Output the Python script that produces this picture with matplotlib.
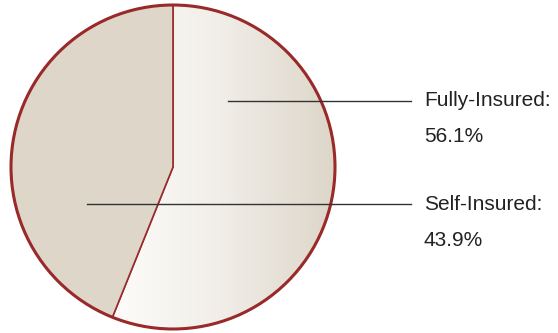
import numpy as np
import matplotlib.pyplot as plt
from matplotlib.colors import LinearSegmentedColormap

labels = ['Fully-Insured', 'Self-Insured']
shares = [56.1, 43.9]

beige = '#ddd6c9'
edge = '#9a2a2a'

fig = plt.figure(figsize=(5.58, 3.33), dpi=100)
ax = fig.add_axes([0, 0, 1, 1])

cx, cy, r = 173, 166, 162
wedges, _ = ax.pie(shares, startangle=90, counterclock=False, center=(cx, cy), radius=r,
                   colors=['none', beige], wedgeprops=dict(edgecolor=edge, linewidth=1.2),
                   frame=True)
ax.set_xlim(0, 558)
ax.set_ylim(0, 333)
ax.set_aspect('equal')
ax.axis('off')

# gradient fill of the fully-insured slice
cmap = LinearSegmentedColormap.from_list('g', ['#fefdfb', '#f1eee8', beige])
grad = np.linspace(0, 1, 256).reshape(1, -1)
im = ax.imshow(grad, cmap=cmap, extent=[105, cx + r, cy - r, cy + r], aspect='auto', zorder=0.5)
im.set_clip_path(wedges[0])

outline = plt.Circle((cx, cy), r, fill=False, edgecolor=edge, linewidth=2.2, zorder=3)
ax.add_patch(outline)

# leader lines and labels
ys = [333 - 101, 333 - 204]
starts = [228, 87]
for lab, val, y, x0 in zip(labels, shares, ys, starts):
    ax.plot([x0, 411], [y, y], color='#333333', linewidth=1, zorder=4)
    ax.text(424, y, lab + ':', fontsize=15, family='Liberation Sans', color='#222222',
            va='center', ha='left')
    ax.text(424, y - 36, '%.1f%%' % val, fontsize=15, family='Liberation Sans', color='#222222',
            va='center', ha='left')

fig.savefig('out.png', dpi=100)
